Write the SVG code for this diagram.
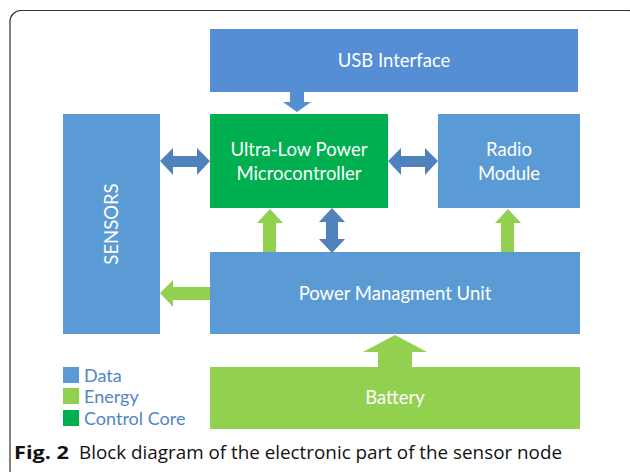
<svg xmlns="http://www.w3.org/2000/svg" width="630" height="472" viewBox="0 0 630 472">
<style>
.blue{fill:#5B9BD5}
.usb{fill:#558ED5}
.core{fill:#00B050}
.energy{fill:#92D050}
.data{fill:#4F81BD}
.lbl{font-family:Lato,"Open Sans",sans-serif;font-size:18.5px;fill:#FFFFFF;text-anchor:middle}
.leg{font-family:Lato,"Open Sans",sans-serif;font-size:18px;fill:#4F86C6}
.cap{font-family:"Open Sans","Noto Sans",sans-serif;font-size:18.5px;fill:#111}
</style>
<rect x="10" y="10.5" width="630" height="470" rx="11" fill="none" stroke="#333" stroke-width="1.2"/>
<g id="usb"><rect class="usb" x="210" y="29" width="368" height="63"/><text class="lbl" x="394" y="67">USB Interface</text></g>
<g id="sensors"><rect class="blue" x="63" y="114" width="97" height="220"/><text class="lbl" transform="translate(118,224) rotate(-90)">SENSORS</text></g>
<g id="mcu"><rect class="core" x="210" y="114" width="178" height="94"/><text class="lbl" x="299" y="156">Ultra-Low Power</text><text class="lbl" x="299" y="180">Microcontroller</text></g>
<g id="radio"><rect class="blue" x="438" y="114" width="142" height="94"/><text class="lbl" x="509" y="156">Radio</text><text class="lbl" x="509" y="180">Module</text></g>
<g id="pmu"><rect class="blue" x="210" y="252" width="370" height="82"/><text class="lbl" x="395" y="300">Power Managment Unit</text></g>
<g id="battery"><rect class="energy" x="210" y="367" width="370" height="62"/><text class="lbl" x="395" y="404">Battery</text></g>
<g id="connectors">
<polygon class="usb" points="290,92 304,92 304,102 311,102 297,112 283,102 290,102"/>
<polygon class="data" points="160,161 173,148 173,156 197,156 197,148 210,161 197,175 197,167 173,167 173,175"/>
<polygon class="data" points="388,161 401,148 401,156 425,156 425,148 438,161 425,175 425,167 401,167 401,175"/>
<polygon class="data" points="332,208 345,222 338,222 338,239 345,239 332,253 319,239 326,239 326,222 319,222"/>
<polygon class="energy" points="270,209 283,223 276,223 276,252 263,252 263,223 257,223"/>
<polygon class="energy" points="508,209 521,223 514,223 514,252 501,252 501,223 495,223"/>
<polygon class="energy" points="160,293 173,280 173,287 210,287 210,300 173,300 173,307"/>
<polygon class="energy" points="395,335 427,352 412,352 412,367 378,367 378,352 363,352"/>
</g>
<g id="legend">
<rect class="blue" x="63" y="367" width="16" height="16"/><text class="leg" x="84" y="382">Data</text>
<rect class="energy" x="63" y="388" width="16" height="16"/><text class="leg" x="84" y="403">Energy</text>
<rect class="core" x="63" y="410" width="16" height="16"/><text class="leg" x="84" y="425">Control Core</text>
</g>
<text class="cap" x="14" y="459"><tspan font-weight="bold" textLength="55" lengthAdjust="spacingAndGlyphs">Fig. 2</tspan><tspan x="79" textLength="483" lengthAdjust="spacingAndGlyphs">Block diagram of the electronic part of the sensor node</tspan></text>
</svg>
